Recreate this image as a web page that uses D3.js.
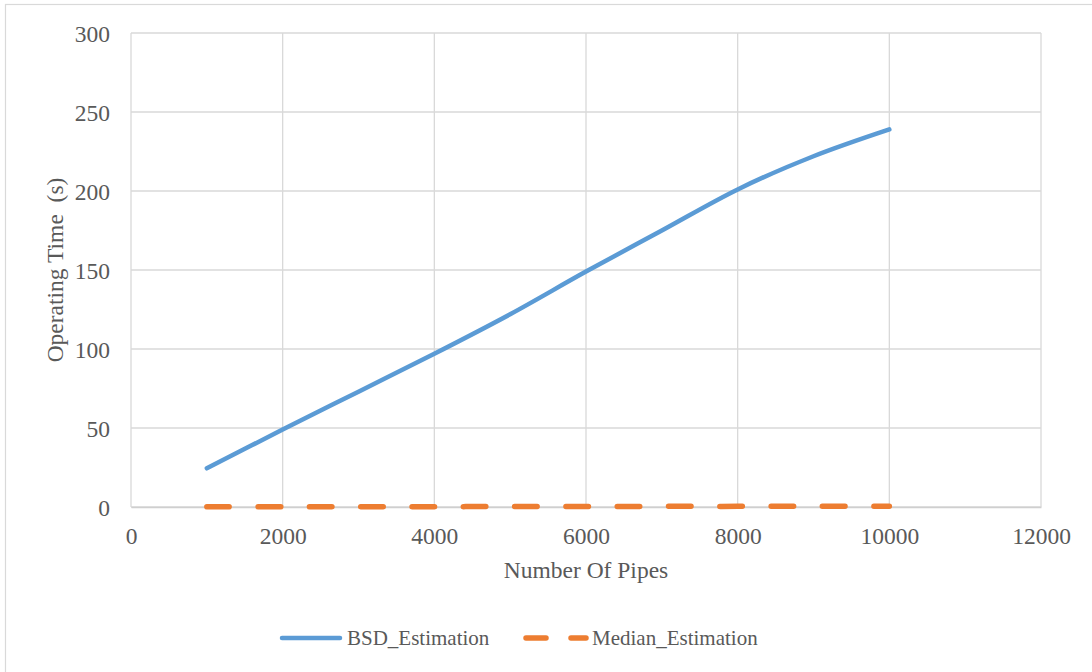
<!DOCTYPE html>
<html>
<head>
<meta charset="utf-8">
<script src="https://cdn.jsdelivr.net/npm/d3@7"></script>
<style>
  html, body { margin: 0; padding: 0; background: #fff; }
  svg { display: block; }
  text { font-family: "Liberation Serif", "Times New Roman", serif; fill: #595959; }
</style>
</head>
<body>
<svg id="chart" width="1092" height="672"></svg>
<script>
// Number of pipes in each run
const pipeCounts = [1000, 2000, 3000, 4000, 5000, 6000, 7000, 8000, 9000, 10000];
// Operating time (s) for each estimation method
const bsdEstimation = [24.5, 49, 73, 97, 122, 149, 175, 201, 222, 239];
const medianEstimation = [0.1, 0.1, 0.2, 0.2, 0.3, 0.3, 0.4, 0.4, 0.5, 0.5];
// Axis ticks
const xTicks = [0, 2000, 4000, 6000, 8000, 10000, 12000];
const yTicks = [0, 50, 100, 150, 200, 250, 300];

const seriesNames = ["BSD_Estimation", "Median_Estimation"];
const colors = { BSD_Estimation: "#5B9BD5", Median_Estimation: "#ED7D31" };

const svg = d3.select("#chart");
const plot = { left: 131, right: 1041, top: 33, bottom: 507 };
const serif = "Liberation Serif, Times New Roman, serif";

// Chart frame
svg.append("rect")
  .attr("x", 5.5).attr("y", 4.5)
  .attr("width", 1095).attr("height", 675)
  .attr("fill", "#fff").attr("stroke", "#d9d9d9").attr("stroke-width", 1.2);

const x = d3.scaleLinear().domain([0, 12000]).range([plot.left, plot.right]);
const y = d3.scaleLinear().domain([0, 300]).range([plot.bottom, plot.top]);

// Gridlines
const grid = svg.append("g");
grid.selectAll("line.h").data(yTicks).join("line")
  .attr("class", "h")
  .attr("x1", plot.left).attr("x2", plot.right)
  .attr("y1", d => y(d)).attr("y2", d => y(d))
  .attr("stroke", "#d9d9d9").attr("stroke-width", 1.3);
grid.selectAll("line.v").data(xTicks).join("line")
  .attr("class", "v")
  .attr("x1", d => x(d)).attr("x2", d => x(d))
  .attr("y1", plot.top).attr("y2", plot.bottom)
  .attr("stroke", "#d9d9d9").attr("stroke-width", 1.3);

// Axes (labels only, lines come from the grid)
const xAxis = svg.append("g")
  .attr("transform", `translate(0,${plot.bottom})`)
  .attr("font-family", serif)
  .call(d3.axisBottom(x).tickValues(xTicks).tickFormat(d3.format("d")).tickSize(0).tickPadding(0));
xAxis.select(".domain").attr("stroke", "#cfcfcf").attr("stroke-width", 1.5);
xAxis.selectAll("text")
  .attr("y", 37).attr("dy", null)
  .style("font-size", "23.5px").attr("fill", "#595959");

const yAxis = svg.append("g")
  .attr("transform", `translate(${plot.left},0)`)
  .attr("font-family", serif)
  .call(d3.axisLeft(y).tickValues(yTicks).tickFormat(d3.format("d")).tickSize(0).tickPadding(0));
yAxis.select(".domain").remove();
yAxis.selectAll("text")
  .attr("x", -21).attr("dy", "0.34em")
  .style("font-size", "23.5px").attr("fill", "#595959");

// Axis titles
svg.append("text")
  .attr("x", (plot.left + plot.right) / 2).attr("y", 578)
  .attr("text-anchor", "middle")
  .style("font-size", "23.5px")
  .text("Number Of Pipes");

svg.append("text")
  .attr("transform", `translate(63,${(plot.top + plot.bottom) / 2}) rotate(-90)`)
  .attr("text-anchor", "middle")
  .style("font-size", "23.5px")
  .style("white-space", "pre")
  .text("Operating Time  (s)");

// Series lines
const lineGen = d3.line()
  .x(d => x(d[0]))
  .y(d => y(d[1]))
  .curve(d3.curveCardinal.tension(0));

const bsdPoints = pipeCounts.map((p, i) => [p, bsdEstimation[i]]);
const medianPoints = pipeCounts.map((p, i) => [p, medianEstimation[i]]);

svg.append("path")
  .datum(medianPoints)
  .attr("fill", "none")
  .attr("stroke", colors.Median_Estimation)
  .attr("stroke-width", 5.5)
  .attr("stroke-linecap", "round")
  .attr("stroke-dasharray", "22.5 28.8")
  .attr("d", lineGen);

svg.append("path")
  .datum(bsdPoints)
  .attr("fill", "none")
  .attr("stroke", colors.BSD_Estimation)
  .attr("stroke-width", 4.5)
  .attr("stroke-linecap", "round")
  .attr("stroke-linejoin", "round")
  .attr("d", lineGen);

// Legend
const legendY = 638;
const legend = svg.append("g");
const legendItems = [
  { name: seriesNames[0], x1: 282, x2: 340, tx: 347, dash: null },
  { name: seriesNames[1], x1: 526, x2: 586, tx: 592, dash: "20 25" }
];
legendItems.forEach(item => {
  legend.append("line")
    .attr("x1", item.x1).attr("x2", item.x2)
    .attr("y1", legendY).attr("y2", legendY)
    .attr("stroke", colors[item.name])
    .attr("stroke-width", item.dash ? 5.5 : 4.5)
    .attr("stroke-linecap", "round")
    .attr("stroke-dasharray", item.dash);
  legend.append("text")
    .attr("x", item.tx).attr("y", legendY)
    .attr("dy", "0.34em")
    .style("font-size", "21px")
    .text(item.name);
});
</script>
</body>
</html>
